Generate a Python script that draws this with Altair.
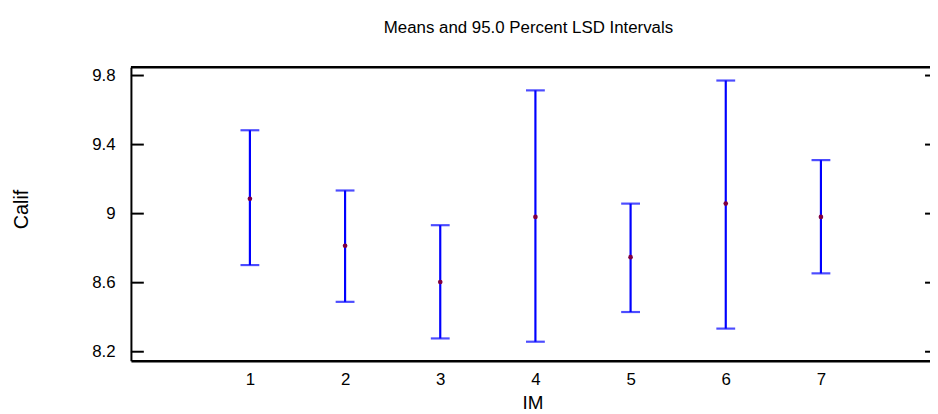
import altair as alt
import pandas as pd

# ---- data ----
groups = [1, 2, 3, 4, 5, 6, 7]
means = [9.086, 8.814, 8.604, 8.981, 8.748, 9.058, 8.981]
upper = [9.483, 9.134, 8.933, 9.714, 9.058, 9.771, 9.310]
lower = [8.702, 8.489, 8.277, 8.258, 8.430, 8.334, 8.654]
y_ticks = [8.2, 8.6, 9.0, 9.4, 9.8]
x_ticks = [1, 2, 3, 4, 5, 6, 7]

W, H = 806, 296
FONT = "Liberation Sans"
BLUE = "#0000ff"
DOT = "#800040"

df = pd.DataFrame({"IM": groups, "mean": means, "upper": upper, "lower": lower})
ticks_df = pd.DataFrame({"y": y_ticks})
one_df = pd.DataFrame({"k": [0]})

xs = alt.Scale(domain=[-0.25, 8.146], nice=False, zero=False)
ys = alt.Scale(domain=[8.148, 9.848], nice=False, zero=False)

x_axis = alt.Axis(
    values=x_ticks, title="IM", ticks=False, grid=False,
    domainColor="black", domainWidth=2.5,
    labelFont=FONT, labelFontSize=17, labelColor="black",
    labelPadding=24, labelBaseline="alphabetic",
    titleFont=FONT, titleFontSize=19, titleFontWeight="normal", titleColor="black",
    titleX=405, titleY=48, titleBaseline="alphabetic", titleAlign="center",
)
y_axis = alt.Axis(
    values=y_ticks, title="Calif", ticks=False, grid=False, format=".1~f",
    domainColor="black", domainWidth=2,
    labelFont=FONT, labelFontSize=17, labelColor="black", labelPadding=16,
    titleFont=FONT, titleFontSize=20, titleFontWeight="normal", titleColor="black",
    titleAngle=-90, titleX=-104, titleY=143, titleBaseline="alphabetic", titleAlign="center",
)

X = lambda f: alt.X(f, type="quantitative", scale=xs, axis=x_axis)
Y = lambda f: alt.Y(f, type="quantitative", scale=ys, axis=y_axis)

base = alt.Chart(df)

bars = base.mark_rule(color=BLUE, strokeWidth=2.2).encode(
    x=X("IM"), y=Y("lower"), y2="upper"
)
cap_top = base.mark_tick(color=BLUE, thickness=2.2, size=19, orient="horizontal").encode(
    x=X("IM"), y=Y("upper")
)
cap_bot = base.mark_tick(color=BLUE, thickness=2.2, size=19, orient="horizontal").encode(
    x=X("IM"), y=Y("lower")
)
dots = base.mark_point(filled=True, color=DOT, size=22, opacity=1).encode(
    x=X("IM"), y=Y("mean")
)

left_ticks = alt.Chart(ticks_df).mark_rule(color="black", strokeWidth=2).encode(
    y=Y("y"), x=alt.value(0), x2=alt.value(13)
)
right_ticks = alt.Chart(ticks_df).mark_rule(color="black", strokeWidth=2).encode(
    y=Y("y"), x=alt.value(W - 5), x2=alt.value(W)
)
top_border = alt.Chart(one_df).mark_rule(color="black", strokeWidth=2.5).encode(
    x=alt.value(0), x2=alt.value(W), y=alt.value(0)
)

chart = (
    alt.layer(bars, cap_top, cap_bot, dots, left_ticks, right_ticks, top_border)
    .properties(
        width=W, height=H,
        autosize=alt.AutoSizeParams(type="none"),
        padding={"left": 124, "top": 58, "right": 0, "bottom": 52},
        background="white",
        title=alt.TitleParams(
            "Means and 95.0 Percent LSD Intervals",
            font=FONT, fontSize=17, fontWeight="normal", color="black",
            anchor="middle", dx=-2, offset=16, baseline="alphabetic",
        ),
    )
    .configure_view(stroke=None)
)

chart.save("out.html", embed_options={"renderer": "svg", "actions": False})
